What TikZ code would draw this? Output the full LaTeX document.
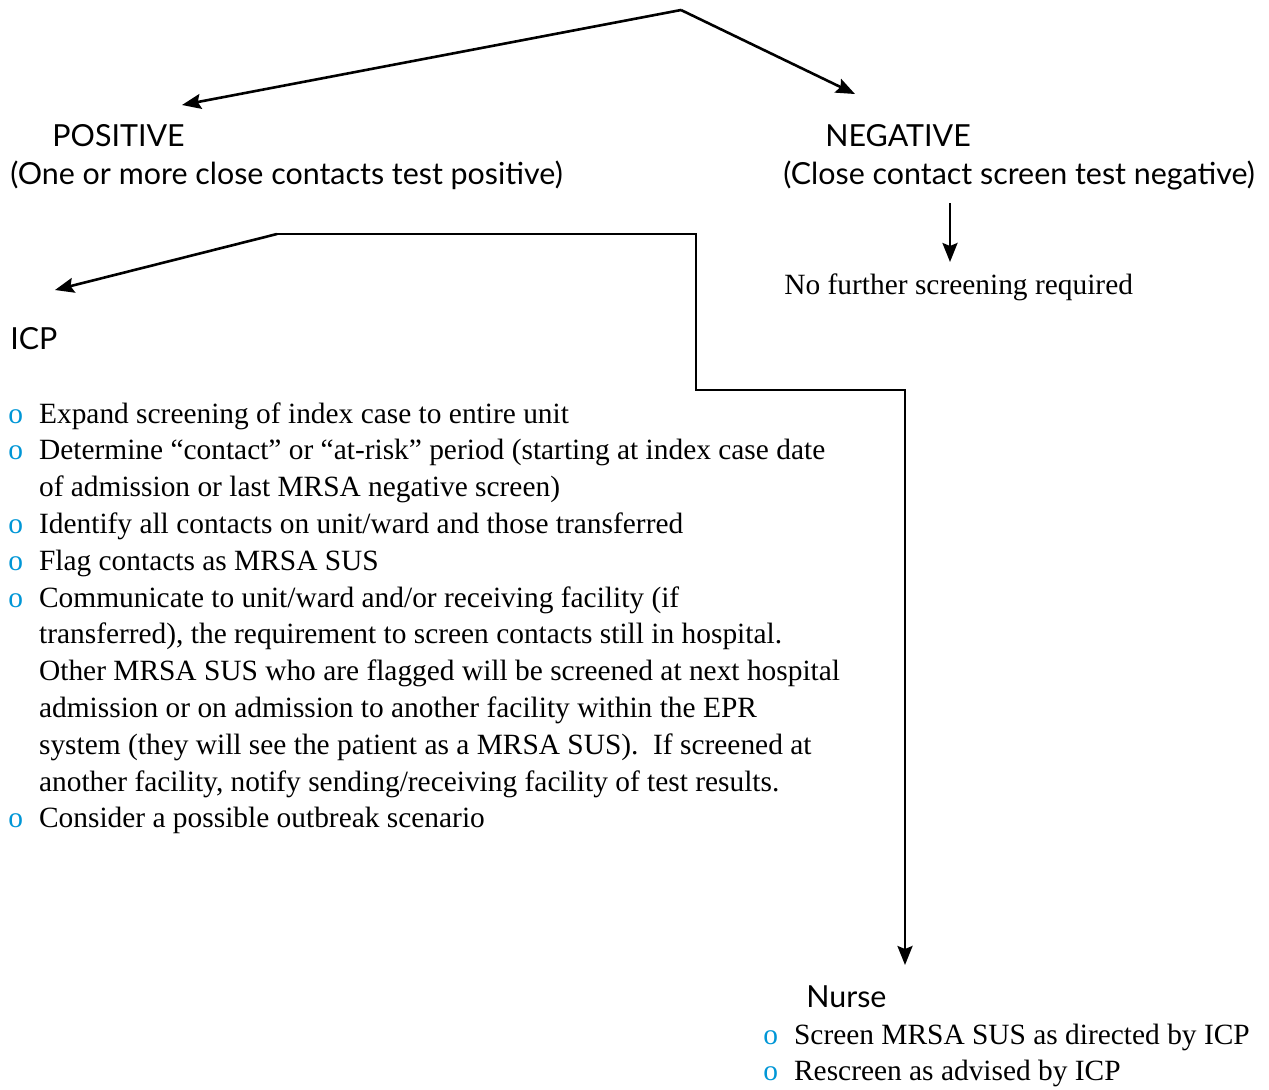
\documentclass[tikz,border=0pt]{standalone}
\usepackage{fontspec}
\setmainfont{Liberation Serif}
\newfontfamily\headfont{Lato}
\usepackage{xcolor}
\usepackage{tikz}
\usetikzlibrary{arrows.meta,positioning,calc}
\definecolor{bulletblue}{RGB}{0,150,214}
\newcommand{\bul}{\textcolor{bulletblue}{o}}

\begin{document}
\begin{tikzpicture}[x=0.5pt,y=-0.5pt,
        head/.style={anchor=west,inner sep=0pt,align=left,
                     font=\headfont\fontsize{15.2}{19.5}\selectfont},
        body/.style={anchor=west,inner sep=0pt,align=left,
                     font=\fontsize{14.7}{18.4}\selectfont},
        arrow/.style={-{Stealth[length=9.5pt,width=7.5pt,inset=1.5pt]},line width=1.3pt,black}
    ]
        \useasboundingbox (0,0) rectangle (1269,1089);
        % outcome headings
        \node[head] (pos) at (52,136) {POSITIVE};
        \node[head] (posd) at (10,175) {(One or more close contacts test positive)};
        \node[head] (neg) at (825,136) {NEGATIVE};
        \node[head] (negd) at (783,175) {(Close contact screen test negative)};
        \node[body] (none) at (784,287) {No further screening required};
        \node[head] (icp) at (10,339) {ICP};
        \node[head] (nurse) at (806,997) {Nurse};
        % ICP actions
        \node[body,anchor=north west] (icplist) at (8,397) {%
            \begin{tabular}{@{}l@{\hspace{8pt}}l@{}}
            \bul & Expand screening of index case to entire unit\\
            \bul & Determine ``contact'' or ``at-risk'' period (starting at index case date\\
                 & of admission or last MRSA negative screen)\\
            \bul & Identify all contacts on unit/ward and those transferred\\
            \bul & Flag contacts as MRSA SUS\\
            \bul & Communicate to unit/ward and/or receiving facility (if\\
                 & transferred), the requirement to screen contacts still in hospital.\\
                 & Other MRSA SUS who are flagged will be screened at next hospital\\
                 & admission or on admission to another facility within the EPR\\
                 & system (they will see the patient as a MRSA SUS).\ \ If screened at\\
                 & another facility, notify sending/receiving facility of test results.\\
            \bul & Consider a possible outbreak scenario
            \end{tabular}};
        % nurse actions
        \node[body,anchor=north west] (nurselist) at (763,1018) {%
            \begin{tabular}{@{}l@{\hspace{8pt}}l@{}}
            \bul & Screen MRSA SUS as directed by ICP\\
            \bul & Rescreen as advised by ICP
            \end{tabular}};
        % connectors
        \coordinate (top) at (681,10);
        \coordinate (postip) at (182,105);
        \coordinate (negtip) at (855,94);
        \coordinate (negout) at (950,203);
        \coordinate (nonetip) at (950,262);
        \coordinate (split) at (277,234);
        \coordinate (icptip) at (55,290);
        \coordinate (bend) at (696,390);
        \coordinate (nursetip) at (905,965);
        \draw[arrow] (top) -- (postip);
        \draw[arrow] (top) -- (negtip);
        \draw[arrow] (negout) -- (nonetip);
        \draw[arrow] (split) -- (icptip);
        \draw[arrow] (split) -| (bend) -| (nursetip);
    \end{tikzpicture}
\end{document}
